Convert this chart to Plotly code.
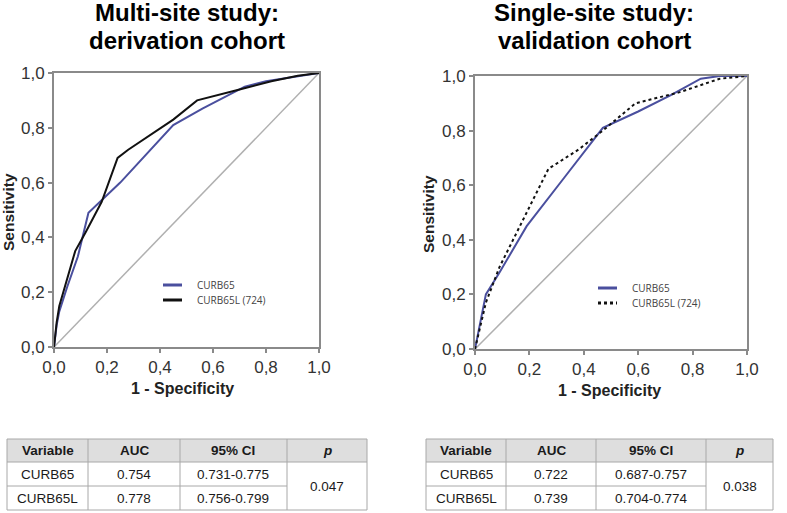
import plotly.graph_objects as go

W, H = 787, 513

# ---------------- data ----------------
tick_vals = [0.0, 0.2, 0.4, 0.6, 0.8, 1.0]
tick_text = ["0,0", "0,2", "0,4", "0,6", "0,8", "1,0"]

# Derivation cohort (left)
der_curb65_x = [0.0, 0.01, 0.02, 0.05, 0.09, 0.13, 0.25, 0.45, 0.56, 0.72, 0.80, 0.90, 1.0]
der_curb65_y = [0.0, 0.08, 0.13, 0.22, 0.33, 0.49, 0.60, 0.81, 0.87, 0.95, 0.97, 0.985, 1.0]
der_curb65l_x = [0.0, 0.01, 0.02, 0.05, 0.08, 0.12, 0.18, 0.24, 0.28, 0.45, 0.54, 0.70, 0.82, 0.92, 1.0]
der_curb65l_y = [0.0, 0.09, 0.15, 0.25, 0.35, 0.42, 0.53, 0.69, 0.72, 0.83, 0.90, 0.94, 0.97, 0.99, 1.0]

# Validation cohort (right)
val_curb65_x = [0.0, 0.02, 0.04, 0.09, 0.19, 0.33, 0.47, 0.60, 0.72, 0.83, 0.90, 1.0]
val_curb65_y = [0.0, 0.10, 0.20, 0.28, 0.45, 0.63, 0.81, 0.87, 0.93, 0.99, 1.0, 1.0]
val_curb65l_x = [0.0, 0.02, 0.04, 0.09, 0.18, 0.27, 0.38, 0.47, 0.59, 0.75, 0.90, 1.0]
val_curb65l_y = [0.0, 0.08, 0.17, 0.30, 0.48, 0.66, 0.73, 0.80, 0.90, 0.94, 0.99, 1.0]

legend_labels = ["CURB65", "CURB65L (724)"]
titles = [["Multi-site study:", "derivation cohort"], ["Single-site study:", "validation cohort"]]

table_header = ["Variable", "AUC", "95% CI", "<i>p</i>"]
der_vars = ["CURB65", "CURB65L"]
der_auc = ["0.754", "0.778"]
der_ci = ["0.731-0.775", "0.756-0.799"]
der_p = "0.047"
val_vars = ["CURB65", "CURB65L"]
val_auc = ["0.722", "0.739"]
val_ci = ["0.687-0.757", "0.704-0.774"]
val_p = "0.038"

# ---------------- style ----------------
BLUE = "#4a4f9e"
BLACK = "#111111"
GRAY = "#8a8a8a"
DIAG = "#b0b0b0"
FONT = "Liberation Sans, Arial, sans-serif"

def px(x):
    return x / W

def py(y):
    return 1 - y / H

fig = go.Figure()

# left panel
fig.add_trace(go.Scatter(x=[0, 1], y=[0, 1], mode="lines", line=dict(color=DIAG, width=1.5),
                         xaxis="x", yaxis="y", showlegend=False, hoverinfo="skip"))
fig.add_trace(go.Scatter(x=der_curb65_x, y=der_curb65_y, mode="lines", line=dict(color=BLUE, width=2),
                         xaxis="x", yaxis="y", showlegend=False, name=legend_labels[0]))
fig.add_trace(go.Scatter(x=der_curb65l_x, y=der_curb65l_y, mode="lines", line=dict(color=BLACK, width=2),
                         xaxis="x", yaxis="y", showlegend=False, name=legend_labels[1]))
# right panel
fig.add_trace(go.Scatter(x=[0, 1], y=[0, 1], mode="lines", line=dict(color=DIAG, width=1.5),
                         xaxis="x2", yaxis="y2", showlegend=False, hoverinfo="skip"))
fig.add_trace(go.Scatter(x=val_curb65_x, y=val_curb65_y, mode="lines", line=dict(color=BLUE, width=2),
                         xaxis="x2", yaxis="y2", showlegend=False, name=legend_labels[0]))
fig.add_trace(go.Scatter(x=val_curb65l_x, y=val_curb65l_y, mode="lines",
                         line=dict(color=BLACK, width=2, dash="dot"),
                         xaxis="x2", yaxis="y2", showlegend=False, name=legend_labels[1]))

axis_common = dict(range=[0, 1], tickvals=tick_vals, ticktext=tick_text, showgrid=False, zeroline=False,
                   showline=True, linecolor=GRAY, linewidth=2, mirror=True, ticks="outside",
                   ticklen=4, tickcolor=GRAY, tickwidth=1.5, automargin=False,
                   tickfont=dict(family=FONT, size=17, color="#333333"))

fig.update_layout(
    width=W, height=H, margin=dict(l=0, r=0, t=0, b=0, autoexpand=False),
    paper_bgcolor="white", plot_bgcolor="white", showlegend=False,
    xaxis=dict(domain=[px(54), px(319)], anchor="y", **axis_common),
    yaxis=dict(domain=[py(347), py(73)], anchor="x", **axis_common),
    xaxis2=dict(domain=[px(475), px(747)], anchor="y2", **axis_common),
    yaxis2=dict(domain=[py(349), py(76)], anchor="x2", **axis_common),
)

ann = []
shapes = []

# titles
for t, cx in zip(titles, [187, 594]):
    for line, cy in zip(t, [12, 40]):
        ann.append(dict(text="<b>" + line + "</b>", x=px(cx), y=py(cy), xref="paper", yref="paper",
                        showarrow=False, font=dict(family=FONT, size=24, color="black"),
                        xanchor="center", yanchor="middle"))

# axis titles
for cx, cy in [(8, 212), (428, 214)]:
    ann.append(dict(text="<b>Sensitivity</b>", x=px(cx), y=py(cy), xref="paper", yref="paper",
                    showarrow=False, textangle=-90, font=dict(family=FONT, size=15.5, color="#222222"),
                    xanchor="center", yanchor="middle"))
for cx, cy in [(182, 388), (609, 390)]:
    ann.append(dict(text="<b>1 - Specificity</b>", x=px(cx), y=py(cy), xref="paper", yref="paper",
                    showarrow=False, font=dict(family=FONT, size=16, color="#222222"),
                    xanchor="center", yanchor="middle"))

# legends
for (lx0, lx1, tx, y1, y2, dash2) in [(163, 182, 195, 285, 300, "solid"), (598, 617, 630, 288, 303, "dot")]:
    shapes.append(dict(type="line", xref="paper", yref="paper", x0=px(lx0), x1=px(lx1), y0=py(y1), y1=py(y1),
                       line=dict(color=BLUE, width=3)))
    shapes.append(dict(type="line", xref="paper", yref="paper", x0=px(lx0), x1=px(lx1), y0=py(y2), y1=py(y2),
                       line=dict(color=BLACK, width=3, dash=dash2)))
    for lab, yy in zip(legend_labels, [y1, y2]):
        ann.append(dict(text=lab, x=px(tx), y=py(yy), xref="paper", yref="paper", showarrow=False,
                        font=dict(family="Open Sans, sans-serif", size=10, color="#444444"),
                        xanchor="left", yanchor="middle"))

# tables
def draw_table(cols, rows, vars_, auc, ci, p):
    x0, x4 = cols[0], cols[-1]
    y0, y1, y2, y3 = rows
    shapes.append(dict(type="rect", xref="paper", yref="paper", x0=px(x0), x1=px(x4), y0=py(y1), y1=py(y0),
                       fillcolor="#dedede", line=dict(width=0), layer="below"))
    lc = dict(color="#a8a8a8", width=1)
    for yy in [y0, y1, y3]:
        shapes.append(dict(type="line", xref="paper", yref="paper", x0=px(x0), x1=px(x4), y0=py(yy), y1=py(yy), line=lc))
    shapes.append(dict(type="line", xref="paper", yref="paper", x0=px(x0), x1=px(cols[3]), y0=py(y2), y1=py(y2), line=lc))
    for xx in cols:
        shapes.append(dict(type="line", xref="paper", yref="paper", x0=px(xx), x1=px(xx), y0=py(y0), y1=py(y3), line=lc))
    centers = [(cols[i] + cols[i + 1]) / 2 for i in range(4)]
    f_head = dict(family=FONT, size=13.5, color="#1a1a1a")
    f_body = dict(family=FONT, size=13.5, color="#1a1a1a")
    for c, h in zip(centers, table_header):
        ann.append(dict(text="<b>" + h + "</b>", x=px(c), y=py((y0 + y1) / 2), xref="paper", yref="paper",
                        showarrow=False, font=f_head, xanchor="center", yanchor="middle"))
    for r, yy in enumerate([(y1 + y2) / 2, (y2 + y3) / 2]):
        for c, val in zip(centers[:3], [vars_[r], auc[r], ci[r]]):
            ann.append(dict(text=val, x=px(c), y=py(yy), xref="paper", yref="paper",
                            showarrow=False, font=f_body, xanchor="center", yanchor="middle"))
    ann.append(dict(text=p, x=px(centers[3]), y=py((y1 + y3) / 2), xref="paper", yref="paper",
                    showarrow=False, font=f_body, xanchor="center", yanchor="middle"))

draw_table([7, 88, 180, 287, 367], [439, 462, 486, 510], der_vars, der_auc, der_ci, der_p)
draw_table([426, 506, 596, 706, 773], [439, 462, 486, 510], val_vars, val_auc, val_ci, val_p)

fig.update_layout(annotations=ann, shapes=shapes)
fig.write_html("out.html", config={"displayModeBar": False},
               post_script="document.body.style.margin='0';document.body.style.overflow='hidden';")
